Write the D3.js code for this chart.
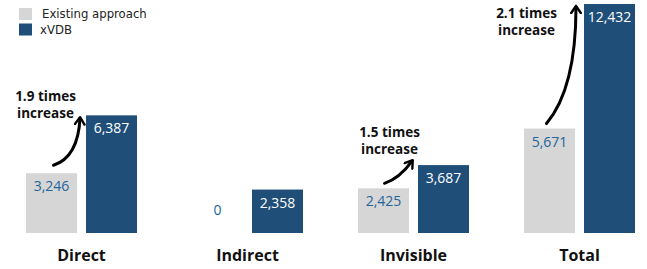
<!DOCTYPE html>
<html>
<head>
<meta charset="utf-8">
<script src="https://cdn.jsdelivr.net/npm/d3@7"></script>
<style>
  html, body { margin: 0; padding: 0; background: #fff; }
  svg { display: block; font-family: "Open Sans", "Noto Sans", sans-serif; }
</style>
</head>
<body>
<svg id="chart" width="647" height="269"></svg>
<script>
const categories = ["Direct", "Indirect", "Invisible", "Total"];
const seriesNames = ["Existing approach", "xVDB"];
const existingValues = [3246, 0, 2425, 5671];
const xvdbValues = [6387, 2358, 3687, 12432];
const increaseLabels = [["1.9 times", "increase"], null, ["1.5 times", "increase"], ["2.1 times", "increase"]];
const colors = ["#d6d6d6", "#1f4e79"];

const svg = d3.select("#chart");
const baseline = 233;

const x0 = d3.scaleBand().domain(categories).range([26, 635]).paddingInner(0.3313).paddingOuter(0);
const x1 = d3.scaleBand().domain(seriesNames).range([0, x0.bandwidth()]).paddingInner(0.15).paddingOuter(0);
const y = d3.scaleLinear().domain([0, 12432]).range([baseline, 4]);

const data = categories.map((c, i) => ({
  category: c,
  values: [
    { series: seriesNames[0], value: existingValues[i] },
    { series: seriesNames[1], value: xvdbValues[i] }
  ]
}));

const fmt = d3.format(",");

const groups = svg.selectAll("g.group").data(data).join("g")
  .attr("class", "group")
  .attr("transform", d => `translate(${x0(d.category)},0)`);

groups.selectAll("rect").data(d => d.values).join("rect")
  .attr("x", d => x1(d.series))
  .attr("y", d => y(d.value))
  .attr("width", x1.bandwidth())
  .attr("height", d => baseline - y(d.value))
  .attr("fill", (d, i) => colors[i]);

groups.selectAll("text.val").data(d => d.values).join("text")
  .attr("class", "val")
  .attr("x", d => x1(d.series) + x1.bandwidth() / 2)
  .attr("y", d => d.value === 0 ? baseline - 18 : y(d.value) + 18)
  .attr("text-anchor", "middle")
  .attr("font-size", 14)
  .attr("fill", (d, i) => i === 0 ? "#23649a" : "#ffffff")
  .text(d => fmt(d.value));

// Category axis labels
const xAxis = d3.axisBottom(x0).tickSize(0).tickPadding(0);
const axisG = svg.append("g").attr("transform", `translate(0,${baseline})`).call(xAxis);
axisG.select(".domain").remove();
axisG.selectAll("text")
  .attr("dy", 0)
  .attr("y", 28)
  .attr("font-size", 16)
  .attr("font-weight", "bold")
  .attr("font-family", "\"Open Sans\", sans-serif")
  .attr("fill", "#111");

// Legend
const legend = svg.append("g");
seriesNames.forEach((s, i) => {
  const g = legend.append("g").attr("transform", `translate(19,${8 + i * 15.5})`);
  g.append("rect").attr("width", 13).attr("height", 12).attr("fill", colors[i]);
  g.append("text").attr("x", i === 0 ? 23 : 21).attr("y", 10)
    .attr("font-size", 13)
    .attr("font-family", "\"Liberation Sans Narrow\", \"DejaVu Sans Condensed\", \"Open Sans\", sans-serif")
    .attr("fill", "#222").text(s);
});

// Annotations: text and curved arrows (positions derived from scales)
const defs = svg.append("defs");
defs.append("marker").attr("id", "ah").attr("viewBox", "0 0 10 10")
  .attr("refX", 6).attr("refY", 5).attr("markerWidth", 4).attr("markerHeight", 4)
  .attr("orient", "auto-start-reverse")
  .append("path").attr("d", "M1,1 L7,5 L1,9").attr("fill", "none").attr("stroke", "#000").attr("stroke-width", 2).attr("stroke-linecap", "round").attr("stroke-linejoin", "round");

const annot = svg.append("g");
categories.forEach((c, i) => {
  const lines = increaseLabels[i];
  if (!lines) return;
  const gx = x0(c);
  const greyCenter = gx + x1(seriesNames[0]) + x1.bandwidth() / 2;
  const blueLeft = gx + x1(seriesNames[1]);
  const greyTop = y(existingValues[i]);
  const blueTop = y(xvdbValues[i]);
  let start, end, ctrl, tx, ty;
  if (c === "Total") {
    start = [greyCenter - 3, greyTop - 5];
    end = [blueLeft - 8, blueTop + 3];
    ctrl = [blueLeft - 8, greyTop - 40];
    tx = greyCenter - 23; ty = blueTop + 14;
  } else if (c === "Invisible") {
    start = [greyCenter + 1, greyTop - 5];
    end = [blueLeft - 6, blueTop - 4];
    ctrl = [greyCenter + 16, greyTop - 10];
    tx = greyCenter + 6; ty = blueTop - 28;
  } else {
    start = [greyCenter + 2, greyTop - 8];
    end = [blueLeft - 6, blueTop + 3];
    ctrl = [blueLeft - 8, greyTop - 16];
    tx = greyCenter - 6; ty = blueTop - 14;
  }
  annot.append("path")
    .attr("d", `M${start[0]},${start[1]} Q${ctrl[0]},${ctrl[1]} ${end[0]},${end[1]}`)
    .attr("fill", "none").attr("stroke", "#000").attr("stroke-width", 3)
    .attr("stroke-linecap", "round")
    .attr("marker-end", "url(#ah)");
  const t = annot.append("text").attr("text-anchor", "middle").attr("font-size", 13.5)
    .attr("font-weight", "bold").attr("fill", "#111");
  lines.forEach((l, k) => {
    t.append("tspan").attr("x", tx).attr("y", ty + k * 17).text(l);
  });
});
</script>
</body>
</html>
